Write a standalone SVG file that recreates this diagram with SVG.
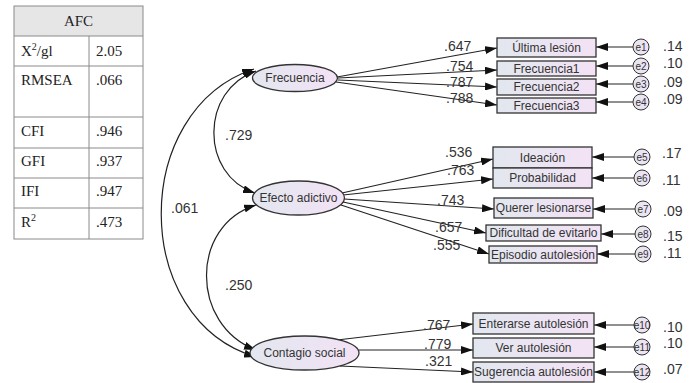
<svg xmlns="http://www.w3.org/2000/svg" width="697" height="383" viewBox="0 0 697 383">
<defs>
<linearGradient id="gf" x1="0" y1="0" x2="1" y2="0">
<stop offset="0" stop-color="#e2e7ef"/>
<stop offset="1" stop-color="#f3e2f5"/>
</linearGradient>
<marker id="ah" viewBox="0 0 12 8" refX="12" refY="4" markerWidth="12" markerHeight="8" markerUnits="userSpaceOnUse" orient="auto-start-reverse">
<path d="M0,0 L12,4 L0,8 z" fill="#111"/>
</marker>
<style>
.tb{fill:none;stroke:#8a8a8a;stroke-width:1}
.tt{font-family:"Liberation Serif",serif;font-size:15px;fill:#222}
.lat{fill:url(#gf);stroke:#333;stroke-width:1.3}
.obs{fill:url(#gf);stroke:#333;stroke-width:1.3}
.err{fill:url(#gf);stroke:#333;stroke-width:1}
.nt{font-family:"Liberation Sans",Arial,sans-serif;font-size:12px;fill:#333;text-anchor:middle}
.et{font-family:"Liberation Sans",Arial,sans-serif;font-size:10px;fill:#333;text-anchor:middle}
.lb{font-family:"Liberation Sans",Arial,sans-serif;font-size:14px;fill:#333}
.cn{fill:none;stroke:#222;stroke-width:1.2;marker-end:url(#ah)}
.cv{fill:none;stroke:#222;stroke-width:1.2;marker-start:url(#ah);marker-end:url(#ah)}
</style>
</defs>
<rect width="697" height="383" fill="#fff"/>

<g id="table">
<rect x="14" y="6" width="129" height="30" fill="#e6e6e6"/>
<rect class="tb" x="14" y="6" width="129" height="233"/>
<line class="tb" x1="14" y1="36" x2="143" y2="36"/>
<line class="tb" x1="14" y1="66" x2="143" y2="66"/>
<line class="tb" x1="14" y1="117" x2="143" y2="117"/>
<line class="tb" x1="14" y1="148" x2="143" y2="148"/>
<line class="tb" x1="14" y1="178" x2="143" y2="178"/>
<line class="tb" x1="14" y1="208" x2="143" y2="208"/>
<line class="tb" x1="89" y1="36" x2="89" y2="239"/>
<text class="tt" x="78.5" y="26" text-anchor="middle">AFC</text>
<text class="tt" x="21" y="56">X<tspan font-size="10" dy="-6">2</tspan><tspan dy="6">/gl</tspan></text>
<text class="tt" x="96" y="56">2.05</text>
<text class="tt" x="21" y="85">RMSEA</text>
<text class="tt" x="96" y="85">.066</text>
<text class="tt" x="21" y="136">CFI</text>
<text class="tt" x="96" y="136">.946</text>
<text class="tt" x="21" y="166">GFI</text>
<text class="tt" x="96" y="166">.937</text>
<text class="tt" x="21" y="196">IFI</text>
<text class="tt" x="96" y="196">.947</text>
<text class="tt" x="21" y="227">R<tspan font-size="10" dy="-6">2</tspan></text>
<text class="tt" x="96" y="227">.473</text>
</g>

<g id="connectors">
<path class="cv" d="M256,71 C200,90 200,175 255,193"/>
<path class="cv" d="M256,205 C190,225 190,325 256,350"/>
<path class="cv" d="M254,69 C130,110 130,320 256,357"/>
<line class="cn" x1="337" y1="77" x2="497" y2="48"/>
<line class="cn" x1="338" y1="78" x2="497" y2="70"/>
<line class="cn" x1="338" y1="80" x2="497" y2="87"/>
<line class="cn" x1="336" y1="82" x2="497" y2="105"/>
<line class="cn" x1="342" y1="193" x2="493" y2="159"/>
<line class="cn" x1="343" y1="195" x2="493" y2="179"/>
<line class="cn" x1="344" y1="199" x2="494" y2="209"/>
<line class="cn" x1="343" y1="202" x2="486" y2="233"/>
<line class="cn" x1="341" y1="205" x2="489" y2="254"/>
<line class="cn" x1="337" y1="340" x2="473" y2="324"/>
<line class="cn" x1="359" y1="350" x2="473" y2="350"/>
<line class="cn" x1="340" y1="366" x2="473" y2="372"/>
<line class="cn" x1="633" y1="47" x2="596" y2="47"/>
<line class="cn" x1="633" y1="66" x2="596" y2="66"/>
<line class="cn" x1="633" y1="84" x2="596" y2="84"/>
<line class="cn" x1="633" y1="102" x2="596" y2="102"/>
<line class="cn" x1="634" y1="157" x2="592" y2="157"/>
<line class="cn" x1="634" y1="178" x2="592" y2="178"/>
<line class="cn" x1="635" y1="209" x2="593" y2="209"/>
<line class="cn" x1="635" y1="234" x2="601" y2="234"/>
<line class="cn" x1="635" y1="254" x2="597" y2="254"/>
<line class="cn" x1="634" y1="325" x2="594" y2="325"/>
<line class="cn" x1="634" y1="347" x2="594" y2="347"/>
<line class="cn" x1="634" y1="372" x2="594" y2="372"/>
<text class="lb" x="225" y="140">.729</text>
<text class="lb" x="171" y="213">.061</text>
<text class="lb" x="225" y="290">.250</text>
<text class="lb" x="444" y="51">.647</text>
<text class="lb" x="446" y="71">.754</text>
<text class="lb" x="446" y="87">.787</text>
<text class="lb" x="446" y="103">.788</text>
<text class="lb" x="445" y="157">.536</text>
<text class="lb" x="447" y="175">.763</text>
<text class="lb" x="437" y="205">.743</text>
<text class="lb" x="435" y="232">.657</text>
<text class="lb" x="433" y="250">.555</text>
<text class="lb" x="423" y="330">.767</text>
<text class="lb" x="424" y="349">.779</text>
<text class="lb" x="425" y="366">.321</text>
</g>

<g id="frecuencia"><ellipse class="lat" cx="295" cy="78" rx="42.5" ry="13.5"/><text class="nt" x="295" y="82">Frecuencia</text></g>
<g id="efecto"><ellipse class="lat" cx="298.5" cy="198" rx="46" ry="17"/><text class="nt" x="298.5" y="202">Efecto adictivo</text></g>
<g id="contagio"><ellipse class="lat" cx="304.5" cy="353" rx="54.5" ry="17"/><text class="nt" x="304.5" y="357">Contagio social</text></g>

<g id="ultima"><rect class="obs" x="497" y="38" width="99" height="19"/><text class="nt" x="546.5" y="52">Última lesión</text></g>
<g id="frec1"><rect class="obs" x="497" y="61" width="99" height="15"/><text class="nt" x="546.5" y="72.5">Frecuencia1</text></g>
<g id="frec2"><rect class="obs" x="497" y="79" width="99" height="16"/><text class="nt" x="546.5" y="91">Frecuencia2</text></g>
<g id="frec3"><rect class="obs" x="497" y="98" width="99" height="15"/><text class="nt" x="546.5" y="110">Frecuencia3</text></g>
<g id="ideacion"><rect class="obs" x="493" y="147" width="99" height="21"/><text class="nt" x="542.5" y="162">Ideación</text></g>
<g id="probabilidad"><rect class="obs" x="493" y="168" width="99" height="20"/><text class="nt" x="542.5" y="182">Probabilidad</text></g>
<g id="querer"><rect class="obs" x="494" y="198" width="99" height="20"/><text class="nt" x="543.5" y="212">Querer lesionarse</text></g>
<g id="dificultad"><rect class="obs" x="486" y="225" width="115" height="16"/><text class="nt" x="543.5" y="237">Dificultad de evitarlo</text></g>
<g id="episodio"><rect class="obs" x="489" y="246" width="108" height="17"/><text class="nt" x="543" y="258.5">Episodio autolesión</text></g>
<g id="enterarse"><rect class="obs" x="473" y="313" width="121" height="21"/><text class="nt" x="533.5" y="328">Enterarse autolesión</text></g>
<g id="ver"><rect class="obs" x="473" y="338" width="121" height="20"/><text class="nt" x="533.5" y="352">Ver autolesión</text></g>
<g id="sugerencia"><rect class="obs" x="473" y="362" width="121" height="20"/><text class="nt" x="533.5" y="376">Sugerencia autolesión</text></g>

<g id="e1"><circle class="err" cx="641" cy="47" r="8"/><text class="et" x="641" y="50.5">e1</text><text class="lb" x="663" y="51">.14</text></g>
<g id="e2"><circle class="err" cx="641" cy="66" r="8"/><text class="et" x="641" y="69.5">e2</text><text class="lb" x="663" y="68">.10</text></g>
<g id="e3"><circle class="err" cx="641" cy="84" r="8"/><text class="et" x="641" y="87.5">e3</text><text class="lb" x="663" y="87">.09</text></g>
<g id="e4"><circle class="err" cx="641" cy="102" r="8"/><text class="et" x="641" y="105.5">e4</text><text class="lb" x="663" y="104">.09</text></g>
<g id="e5"><circle class="err" cx="642" cy="157" r="8"/><text class="et" x="642" y="160.5">e5</text><text class="lb" x="662" y="158">.17</text></g>
<g id="e6"><circle class="err" cx="642" cy="178" r="8"/><text class="et" x="642" y="181.5">e6</text><text class="lb" x="662" y="185">.11</text></g>
<g id="e7"><circle class="err" cx="643" cy="209" r="8"/><text class="et" x="643" y="212.5">e7</text><text class="lb" x="663" y="216">.09</text></g>
<g id="e8"><circle class="err" cx="643" cy="234" r="8"/><text class="et" x="643" y="237.5">e8</text><text class="lb" x="663" y="241">.15</text></g>
<g id="e9"><circle class="err" cx="643" cy="254" r="8"/><text class="et" x="643" y="257.5">e9</text><text class="lb" x="663" y="258">.11</text></g>
<g id="e10"><circle class="err" cx="642" cy="325" r="8"/><text class="et" x="642" y="328.5" font-size="9">e10</text><text class="lb" x="663" y="332">.10</text></g>
<g id="e11"><circle class="err" cx="642" cy="347" r="8"/><text class="et" x="642" y="350.5" font-size="9">e11</text><text class="lb" x="663" y="348">.10</text></g>
<g id="e12"><circle class="err" cx="642" cy="372" r="8"/><text class="et" x="642" y="375.5" font-size="9">e12</text><text class="lb" x="663" y="374">.07</text></g>
</svg>
